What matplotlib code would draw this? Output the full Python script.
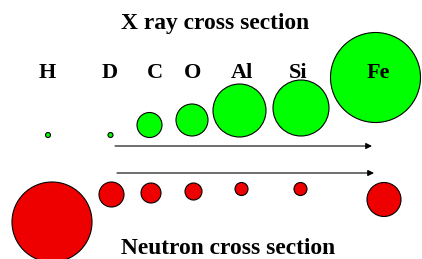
import matplotlib
matplotlib.use("Agg")
import matplotlib.pyplot as plt
from matplotlib.patches import Circle

# element labels and relative cross sections (drawn as circle radii, px)
elements = ["H", "D", "C", "O", "Al", "Si", "Fe"]
xray_radius = [2.5, 2.5, 12.5, 16, 26.5, 28, 45]
neutron_radius = [40, 12.5, 10, 8.5, 6.5, 6.5, 17]

# layout (pixel coordinates of the 422x259 canvas)
label_x = [47, 110, 155, 193, 242, 298, 378]
xray_x = [48, 110.5, 149.5, 192, 239.5, 301, 375.5]
xray_y = [135, 135, 125, 120, 110.5, 108, 77.5]
neutron_x = [52, 111.5, 151, 193.5, 241.5, 300.5, 384]
neutron_y = [222, 194.5, 193, 191.5, 189, 189, 199.5]

GREEN = "#00ff00"
RED = "#ee0000"
FONT = {"family": "Liberation Serif", "weight": "bold"}

fig = plt.figure(figsize=(4.22, 2.59), dpi=100)
ax = fig.add_axes([0, 0, 1, 1])
ax.set_xlim(0, 422)
ax.set_ylim(259, 0)
ax.set_aspect("equal")
ax.axis("off")

ax.text(215, 29, "X ray cross section", ha="center", va="baseline", fontsize=16.9, **FONT)
ax.text(228.5, 254.5, "Neutron cross section", ha="center", va="baseline", fontsize=16.9, **FONT)

for x, y, r in zip(xray_x, xray_y, xray_radius):
    ax.add_patch(Circle((x, y), r, facecolor=GREEN, edgecolor="black", linewidth=0.8, zorder=2))
for x, y, r in zip(neutron_x, neutron_y, neutron_radius):
    ax.add_patch(Circle((x, y), r, facecolor=RED, edgecolor="black", linewidth=0.8, zorder=2))

for x, name in zip(label_x, elements):
    ax.text(x, 78, name, ha="center", va="baseline", fontsize=16, zorder=3, **FONT)

for y, x0, x1 in [(146, 115, 372), (173, 117, 374)]:
    ax.annotate("", xy=(x1, y), xytext=(x0, y),
                arrowprops=dict(arrowstyle="-|>", color="black", lw=0.8,
                                mutation_scale=9, shrinkA=0, shrinkB=0))

fig.savefig("out.png", dpi=100)
